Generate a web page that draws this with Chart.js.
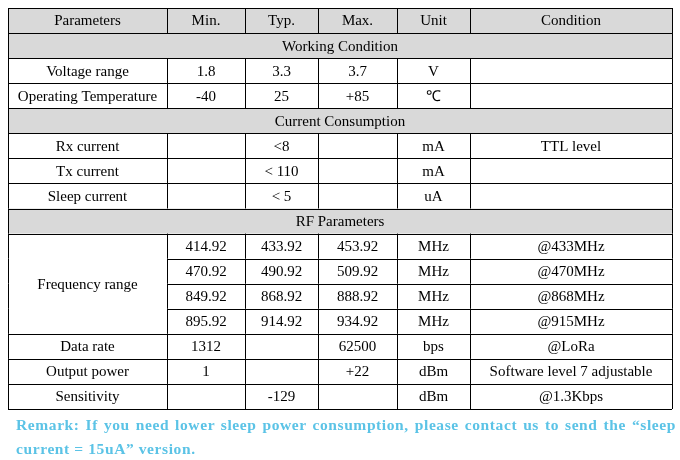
<!DOCTYPE html>
<html><head><meta charset="utf-8">
<script src="https://cdn.jsdelivr.net/npm/chart.js@4"></script>
<style>
html,body{margin:0;padding:0;background:#fff;}
#wrap{position:relative;width:680px;height:460px;}
#remark{position:absolute;left:16px;top:413px;width:660px;font-family:"Liberation Serif",serif;font-weight:bold;font-size:15.5px;color:#5bc3e6;text-align:justify;text-align-last:left;line-height:24px;letter-spacing:0.6px;}
</style></head><body>
<div id="wrap"><canvas id="c" width="680" height="460"></canvas>
<div id="remark">Remark: If you need lower sleep power consumption, please contact us to send the “sleep current = 15uA” version.</div></div>
<script>
const headers = ["Parameters","Min.","Typ.","Max.","Unit","Condition"];
const colEdges = [0,159,237,310,389,462,664];
// rows: either section title (string) or array of 6 cells ('^' = merged with above)
const rows = [
  "HEADER",
  "Working Condition",
  ["Voltage range","1.8","3.3","3.7","V",""],
  ["Operating Temperature","-40","25","+85","℃",""],
  "Current Consumption",
  ["Rx current","","<8","","mA","TTL level"],
  ["Tx current","","< 110","","mA",""],
  ["Sleep current","","< 5","","uA",""],
  "RF Parameters",
  ["Frequency range","414.92","433.92","453.92","MHz","@433MHz"],
  ["^","470.92","490.92","509.92","MHz","@470MHz"],
  ["^","849.92","868.92","888.92","MHz","@868MHz"],
  ["^","895.92","914.92","934.92","MHz","@915MHz"],
  ["Data rate","1312","","62500","bps","@LoRa"],
  ["Output power","1","","+22","dBm","Software level 7 adjustable"],
  ["Sensitivity","","-129","","dBm","@1.3Kbps"]
];
const tablePlugin = {
  id:'table',
  afterDraw(chart){
    const ctx=chart.ctx, xs=chart.scales.x, ys=chart.scales.y;
    const X=v=>xs.getPixelForValue(v), Y=v=>ys.getPixelForValue(v);
    const n=rows.length;
    ctx.save();
    ctx.font='15px "Liberation Serif", serif';
    ctx.fillStyle='#000';ctx.textAlign='center';ctx.textBaseline='middle';
    // backgrounds
    rows.forEach((r,i)=>{
      if(typeof r==='string'){ctx.fillStyle='#d9d9d9';ctx.fillRect(X(0),Y(i),X(664)-X(0),Y(i+1)-Y(i));}
    });
    ctx.strokeStyle='#000';ctx.lineWidth=1;
    // horizontal lines
    for(let i=0;i<=n;i++){
      const y=Math.round(Y(i))+0.5;
      let x0=X(0);
      if(i>0&&i<n&&Array.isArray(rows[i])&&rows[i][0]==='^') x0=X(colEdges[1]);
      ctx.beginPath();ctx.moveTo(x0,y);ctx.lineTo(X(664),y);ctx.stroke();
    }
    // vertical lines
    rows.forEach((r,i)=>{
      const y0=Y(i),y1=Y(i+1);
      const edges=(typeof r==='string'&&r!=="HEADER")?[0,664]:colEdges;
      edges.forEach(e=>{const x=Math.round(X(e))+0.5;ctx.beginPath();ctx.moveTo(x,y0);ctx.lineTo(x,y1);ctx.stroke();});
    });
    // text
    ctx.fillStyle='#000';
    rows.forEach((r,i)=>{
      const yc=(Y(i)+Y(i+1))/2+1;
      if(r==="HEADER"){headers.forEach((h,c)=>ctx.fillText(h,(X(colEdges[c])+X(colEdges[c+1]))/2,yc));}
      else if(typeof r==='string'){ctx.fillText(r,X(332),yc);}
      else r.forEach((t,c)=>{
        if(t==='^')return;
        let yy=yc;
        if(c===0&&i+1<n&&Array.isArray(rows[i+1])&&rows[i+1][0]==='^'){
          let k=i+1;while(k<n&&Array.isArray(rows[k])&&rows[k][0]==='^')k++;
          yy=(Y(i)+Y(k))/2+1;
        }
        ctx.fillText(t,(X(colEdges[c])+X(colEdges[c+1]))/2,yy);
      });
    });
    ctx.restore();
  }
};
new Chart(document.getElementById('c'),{
  type:'scatter',
  data:{datasets:[{data:[]}]},
  options:{responsive:false,animation:false,
    layout:{padding:{left:8,right:8,top:8,bottom:51}},
    plugins:{legend:{display:false},tooltip:{enabled:false}},
    scales:{
      x:{type:'linear',min:0,max:664,display:false},
      y:{type:'linear',min:0,max:rows.length,reverse:true,display:false}
    }},
  plugins:[tablePlugin]
});
</script></body></html>
